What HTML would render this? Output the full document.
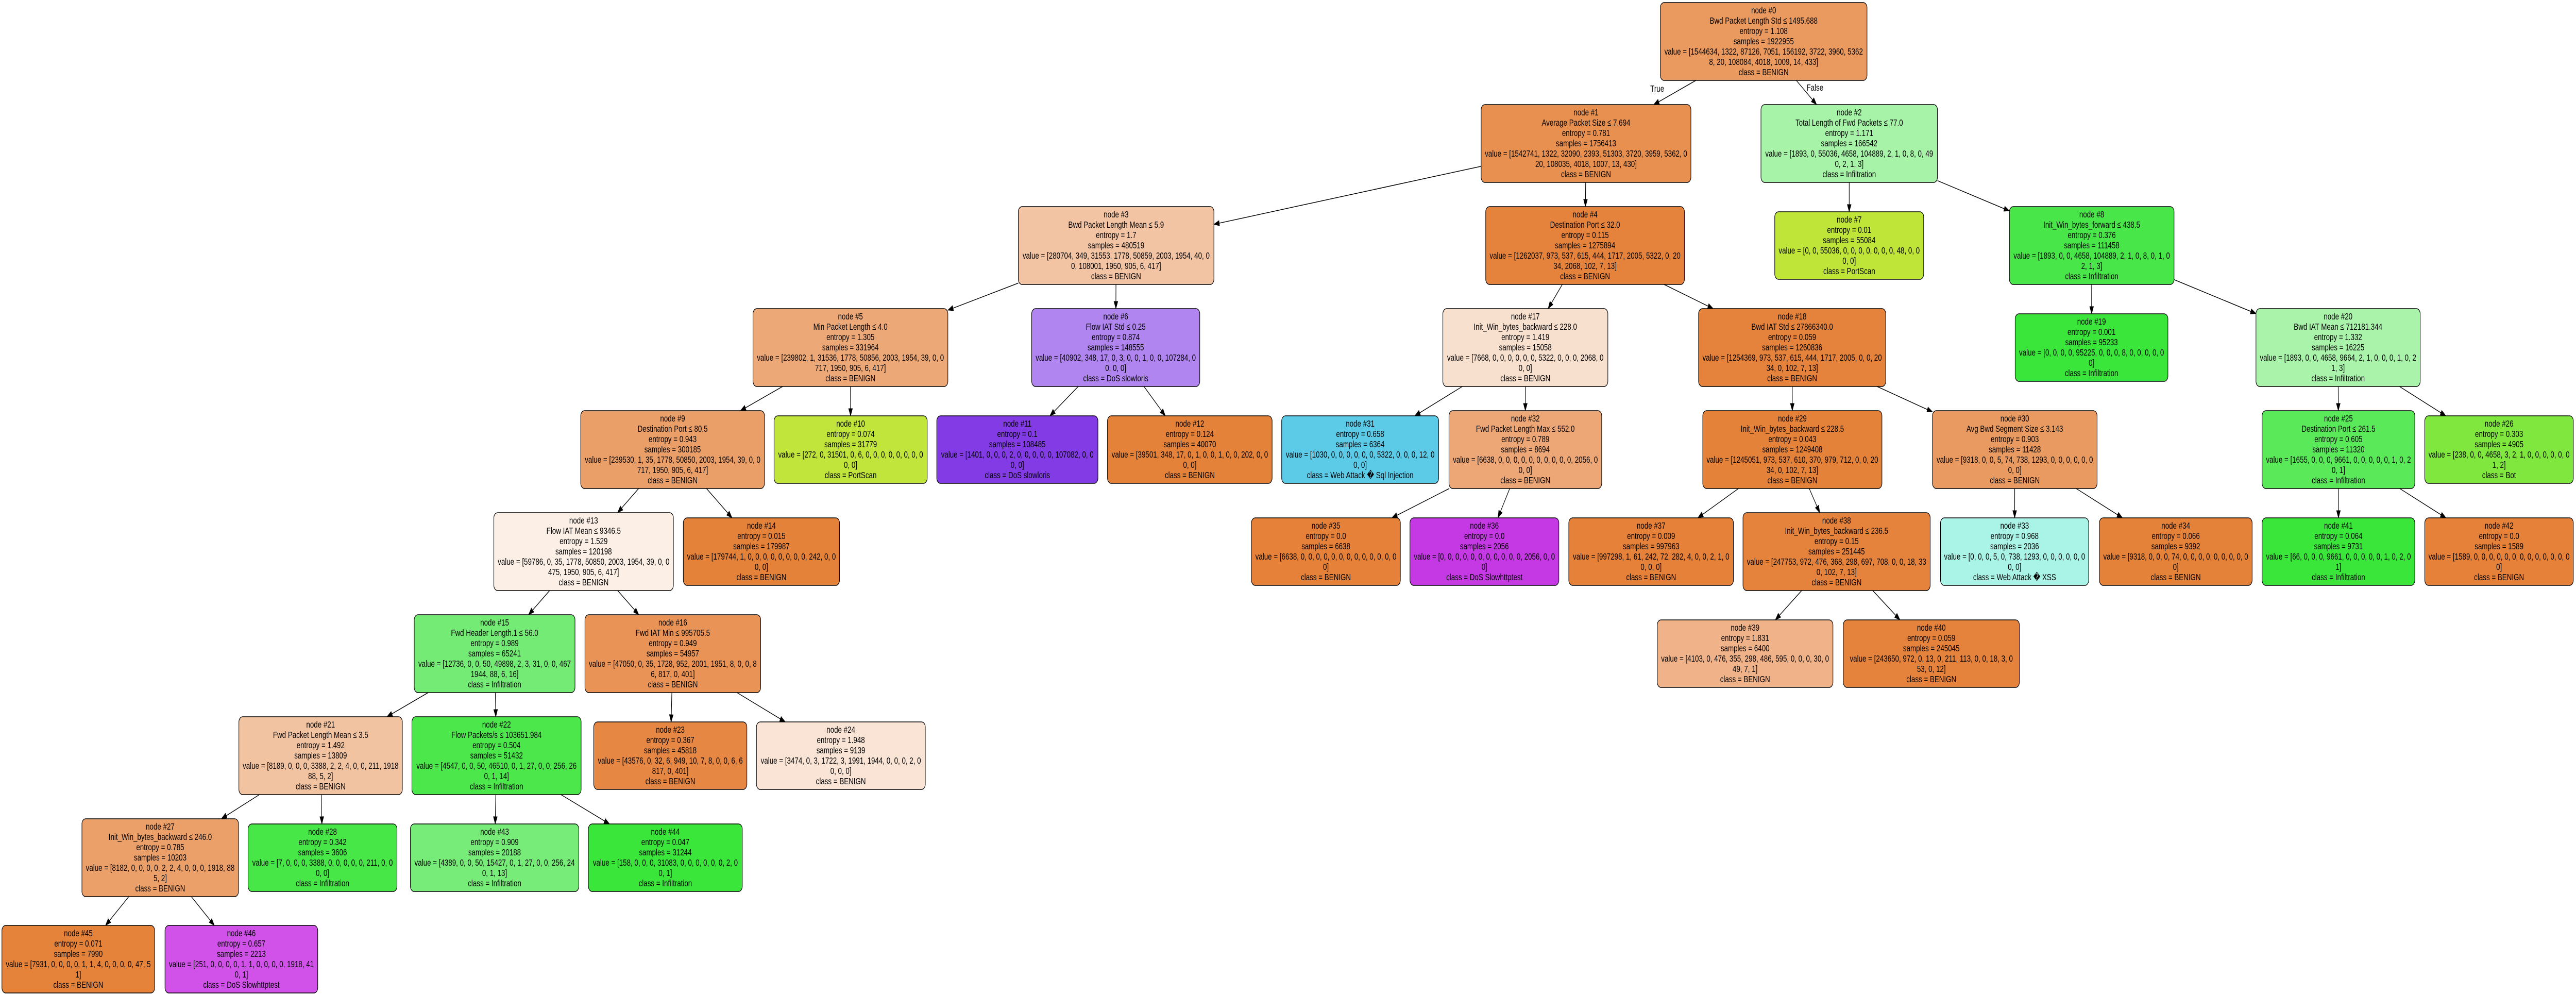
<!DOCTYPE html>
<html><head><meta charset="utf-8">
<style>
html,body{margin:0;padding:0;background:#fff;overflow:hidden;}
svg{display:block;position:fixed;left:0;top:0;width:100vw;height:100vh;}
rect{stroke:#000;stroke-width:1.4;}
text{font-family:"Liberation Sans","DejaVu Sans",sans-serif;font-size:18px;text-anchor:middle;fill:#000;}
</style></head>
<body>
<svg id="s" viewBox="0 0 6729 1929" preserveAspectRatio="none" xmlns="http://www.w3.org/2000/svg">
<g id="edges"></g>
<text x="4329" y="178">True</text>
<text x="4741" y="176">False</text>

<g class="n" id="n0" transform="translate(4337,5)"><rect width="540" height="151" rx="10" fill="#ea9a5f"/><g transform="translate(270,0)"><text y="21"><tspan x="0">node #0</tspan><tspan x="0" dy="20">Bwd Packet Length Std ≤ 1495.688</tspan><tspan x="0" dy="20">entropy = 1.108</tspan><tspan x="0" dy="20">samples = 1922955</tspan><tspan x="0" dy="20">value = [1544634, 1322, 87126, 7051, 156192, 3722, 3960, 5362</tspan><tspan x="0" dy="20">8, 20, 108084, 4018, 1009, 14, 433]</tspan><tspan x="0" dy="20">class = BENIGN</tspan></text></g></g>

<g class="n" id="n1" transform="translate(3869,203)"><rect width="548" height="151" rx="10" fill="#e89050"/><g transform="translate(274,0)"><text y="21"><tspan x="0">node #1</tspan><tspan x="0" dy="20">Average Packet Size ≤ 7.694</tspan><tspan x="0" dy="20">entropy = 0.781</tspan><tspan x="0" dy="20">samples = 1756413</tspan><tspan x="0" dy="20">value = [1542741, 1322, 32090, 2393, 51303, 3720, 3959, 5362, 0</tspan><tspan x="0" dy="20">20, 108035, 4018, 1007, 13, 430]</tspan><tspan x="0" dy="20">class = BENIGN</tspan></text></g></g>
<g class="n" id="n2" transform="translate(4600,203)"><rect width="461" height="151" rx="10" fill="#a7f3a7"/><g transform="translate(230.5,0)"><text y="21"><tspan x="0">node #2</tspan><tspan x="0" dy="20">Total Length of Fwd Packets ≤ 77.0</tspan><tspan x="0" dy="20">entropy = 1.171</tspan><tspan x="0" dy="20">samples = 166542</tspan><tspan x="0" dy="20">value = [1893, 0, 55036, 4658, 104889, 2, 1, 0, 8, 0, 49</tspan><tspan x="0" dy="20">0, 2, 1, 3]</tspan><tspan x="0" dy="20">class = Infiltration</tspan></text></g></g>

<g class="n" id="n3" transform="translate(2660,401)"><rect width="511" height="151" rx="10" fill="#f2c4a3"/><g transform="translate(255.5,0)"><text y="21"><tspan x="0">node #3</tspan><tspan x="0" dy="20">Bwd Packet Length Mean ≤ 5.9</tspan><tspan x="0" dy="20">entropy = 1.7</tspan><tspan x="0" dy="20">samples = 480519</tspan><tspan x="0" dy="20">value = [280704, 349, 31553, 1778, 50859, 2003, 1954, 40, 0</tspan><tspan x="0" dy="20">0, 108001, 1950, 905, 6, 417]</tspan><tspan x="0" dy="20">class = BENIGN</tspan></text></g></g>
<g class="n" id="n4" transform="translate(3881,401)"><rect width="519" height="151" rx="10" fill="#e5833c"/><g transform="translate(259.5,0)"><text y="21"><tspan x="0">node #4</tspan><tspan x="0" dy="20">Destination Port ≤ 32.0</tspan><tspan x="0" dy="20">entropy = 0.115</tspan><tspan x="0" dy="20">samples = 1275894</tspan><tspan x="0" dy="20">value = [1262037, 973, 537, 615, 444, 1717, 2005, 5322, 0, 20</tspan><tspan x="0" dy="20">34, 2068, 102, 7, 13]</tspan><tspan x="0" dy="20">class = BENIGN</tspan></text></g></g>
<g class="n" id="n7" transform="translate(4636,411)"><rect width="389" height="131" rx="10" fill="#c0e539"/><g transform="translate(194.5,0)"><text y="21"><tspan x="0">node #7</tspan><tspan x="0" dy="20">entropy = 0.01</tspan><tspan x="0" dy="20">samples = 55084</tspan><tspan x="0" dy="20">value = [0, 0, 55036, 0, 0, 0, 0, 0, 0, 0, 48, 0, 0</tspan><tspan x="0" dy="20">0, 0]</tspan><tspan x="0" dy="20">class = PortScan</tspan></text></g></g>
<g class="n" id="n8" transform="translate(5249,401)"><rect width="430" height="151" rx="10" fill="#48e648"/><g transform="translate(215,0)"><text y="21"><tspan x="0">node #8</tspan><tspan x="0" dy="20">Init_Win_bytes_forward ≤ 438.5</tspan><tspan x="0" dy="20">entropy = 0.376</tspan><tspan x="0" dy="20">samples = 111458</tspan><tspan x="0" dy="20">value = [1893, 0, 0, 4658, 104889, 2, 1, 0, 8, 0, 1, 0</tspan><tspan x="0" dy="20">2, 1, 3]</tspan><tspan x="0" dy="20">class = Infiltration</tspan></text></g></g>

<g class="n" id="n5" transform="translate(1967,599)"><rect width="509" height="151" rx="10" fill="#eda877"/><g transform="translate(254.5,0)"><text y="21"><tspan x="0">node #5</tspan><tspan x="0" dy="20">Min Packet Length ≤ 4.0</tspan><tspan x="0" dy="20">entropy = 1.305</tspan><tspan x="0" dy="20">samples = 331964</tspan><tspan x="0" dy="20">value = [239802, 1, 31536, 1778, 50856, 2003, 1954, 39, 0, 0</tspan><tspan x="0" dy="20">717, 1950, 905, 6, 417]</tspan><tspan x="0" dy="20">class = BENIGN</tspan></text></g></g>
<g class="n" id="n6" transform="translate(2695,599)"><rect width="439" height="151" rx="10" fill="#b185ef"/><g transform="translate(219.5,0)"><text y="21"><tspan x="0">node #6</tspan><tspan x="0" dy="20">Flow IAT Std ≤ 0.25</tspan><tspan x="0" dy="20">entropy = 0.874</tspan><tspan x="0" dy="20">samples = 148555</tspan><tspan x="0" dy="20">value = [40902, 348, 17, 0, 3, 0, 0, 1, 0, 0, 107284, 0</tspan><tspan x="0" dy="20">0, 0, 0]</tspan><tspan x="0" dy="20">class = DoS slowloris</tspan></text></g></g>
<g class="n" id="n17" transform="translate(3769,599)"><rect width="431" height="151" rx="10" fill="#f8e0ce"/><g transform="translate(215.5,0)"><text y="21"><tspan x="0">node #17</tspan><tspan x="0" dy="20">Init_Win_bytes_backward ≤ 228.0</tspan><tspan x="0" dy="20">entropy = 1.419</tspan><tspan x="0" dy="20">samples = 15058</tspan><tspan x="0" dy="20">value = [7668, 0, 0, 0, 0, 0, 0, 5322, 0, 0, 0, 2068, 0</tspan><tspan x="0" dy="20">0, 0]</tspan><tspan x="0" dy="20">class = BENIGN</tspan></text></g></g>
<g class="n" id="n18" transform="translate(4437,599)"><rect width="489" height="151" rx="10" fill="#e5823b"/><g transform="translate(244.5,0)"><text y="21"><tspan x="0">node #18</tspan><tspan x="0" dy="20">Bwd IAT Std ≤ 27866340.0</tspan><tspan x="0" dy="20">entropy = 0.059</tspan><tspan x="0" dy="20">samples = 1260836</tspan><tspan x="0" dy="20">value = [1254369, 973, 537, 615, 444, 1717, 2005, 0, 0, 20</tspan><tspan x="0" dy="20">34, 0, 102, 7, 13]</tspan><tspan x="0" dy="20">class = BENIGN</tspan></text></g></g>
<g class="n" id="n19" transform="translate(5264,609)"><rect width="399" height="131" rx="10" fill="#3ae63a"/><g transform="translate(199.5,0)"><text y="21"><tspan x="0">node #19</tspan><tspan x="0" dy="20">entropy = 0.001</tspan><tspan x="0" dy="20">samples = 95233</tspan><tspan x="0" dy="20">value = [0, 0, 0, 0, 95225, 0, 0, 0, 8, 0, 0, 0, 0, 0</tspan><tspan x="0" dy="20">0]</tspan><tspan x="0" dy="20">class = Infiltration</tspan></text></g></g>
<g class="n" id="n20" transform="translate(5893,599)"><rect width="429" height="151" rx="10" fill="#aaf3aa"/><g transform="translate(214.5,0)"><text y="21"><tspan x="0">node #20</tspan><tspan x="0" dy="20">Bwd IAT Mean ≤ 712181.344</tspan><tspan x="0" dy="20">entropy = 1.332</tspan><tspan x="0" dy="20">samples = 16225</tspan><tspan x="0" dy="20">value = [1893, 0, 0, 4658, 9664, 2, 1, 0, 0, 0, 1, 0, 2</tspan><tspan x="0" dy="20">1, 3]</tspan><tspan x="0" dy="20">class = Infiltration</tspan></text></g></g>

<g class="n" id="n9" transform="translate(1517,797)"><rect width="480" height="151" rx="10" fill="#ea9f68"/><g transform="translate(240,0)"><text y="21"><tspan x="0">node #9</tspan><tspan x="0" dy="20">Destination Port ≤ 80.5</tspan><tspan x="0" dy="20">entropy = 0.943</tspan><tspan x="0" dy="20">samples = 300185</tspan><tspan x="0" dy="20">value = [239530, 1, 35, 1778, 50850, 2003, 1954, 39, 0, 0</tspan><tspan x="0" dy="20">717, 1950, 905, 6, 417]</tspan><tspan x="0" dy="20">class = BENIGN</tspan></text></g></g>
<g class="n" id="n10" transform="translate(2022,807)"><rect width="400" height="131" rx="10" fill="#c1e53b"/><g transform="translate(200,0)"><text y="21"><tspan x="0">node #10</tspan><tspan x="0" dy="20">entropy = 0.074</tspan><tspan x="0" dy="20">samples = 31779</tspan><tspan x="0" dy="20">value = [272, 0, 31501, 0, 6, 0, 0, 0, 0, 0, 0, 0, 0</tspan><tspan x="0" dy="20">0, 0]</tspan><tspan x="0" dy="20">class = PortScan</tspan></text></g></g>
<g class="n" id="n11" transform="translate(2447,807)"><rect width="421" height="131" rx="10" fill="#833be5"/><g transform="translate(210.5,0)"><text y="21"><tspan x="0">node #11</tspan><tspan x="0" dy="20">entropy = 0.1</tspan><tspan x="0" dy="20">samples = 108485</tspan><tspan x="0" dy="20">value = [1401, 0, 0, 0, 2, 0, 0, 0, 0, 0, 107082, 0, 0</tspan><tspan x="0" dy="20">0, 0]</tspan><tspan x="0" dy="20">class = DoS slowloris</tspan></text></g></g>
<g class="n" id="n12" transform="translate(2893,807)"><rect width="430" height="131" rx="10" fill="#e5823a"/><g transform="translate(215,0)"><text y="21"><tspan x="0">node #12</tspan><tspan x="0" dy="20">entropy = 0.124</tspan><tspan x="0" dy="20">samples = 40070</tspan><tspan x="0" dy="20">value = [39501, 348, 17, 0, 1, 0, 0, 1, 0, 0, 202, 0, 0</tspan><tspan x="0" dy="20">0, 0]</tspan><tspan x="0" dy="20">class = BENIGN</tspan></text></g></g>
<g class="n" id="n31" transform="translate(3348,807)"><rect width="410" height="131" rx="10" fill="#5ccbe8"/><g transform="translate(205,0)"><text y="21"><tspan x="0">node #31</tspan><tspan x="0" dy="20">entropy = 0.658</tspan><tspan x="0" dy="20">samples = 6364</tspan><tspan x="0" dy="20">value = [1030, 0, 0, 0, 0, 0, 0, 5322, 0, 0, 0, 12, 0</tspan><tspan x="0" dy="20">0, 0]</tspan><tspan x="0" dy="20">class = Web Attack &#xFFFD; Sql Injection</tspan></text></g></g>
<g class="n" id="n32" transform="translate(3785,797)"><rect width="399" height="151" rx="10" fill="#eda675"/><g transform="translate(199.5,0)"><text y="21"><tspan x="0">node #32</tspan><tspan x="0" dy="20">Fwd Packet Length Max ≤ 552.0</tspan><tspan x="0" dy="20">entropy = 0.789</tspan><tspan x="0" dy="20">samples = 8694</tspan><tspan x="0" dy="20">value = [6638, 0, 0, 0, 0, 0, 0, 0, 0, 0, 0, 2056, 0</tspan><tspan x="0" dy="20">0, 0]</tspan><tspan x="0" dy="20">class = BENIGN</tspan></text></g></g>
<g class="n" id="n29" transform="translate(4448,797)"><rect width="468" height="151" rx="10" fill="#e5823a"/><g transform="translate(234,0)"><text y="21"><tspan x="0">node #29</tspan><tspan x="0" dy="20">Init_Win_bytes_backward ≤ 228.5</tspan><tspan x="0" dy="20">entropy = 0.043</tspan><tspan x="0" dy="20">samples = 1249408</tspan><tspan x="0" dy="20">value = [1245051, 973, 537, 610, 370, 979, 712, 0, 0, 20</tspan><tspan x="0" dy="20">34, 0, 102, 7, 13]</tspan><tspan x="0" dy="20">class = BENIGN</tspan></text></g></g>
<g class="n" id="n30" transform="translate(5048,797)"><rect width="430" height="151" rx="10" fill="#e99a60"/><g transform="translate(215,0)"><text y="21"><tspan x="0">node #30</tspan><tspan x="0" dy="20">Avg Bwd Segment Size ≤ 3.143</tspan><tspan x="0" dy="20">entropy = 0.903</tspan><tspan x="0" dy="20">samples = 11428</tspan><tspan x="0" dy="20">value = [9318, 0, 0, 5, 74, 738, 1293, 0, 0, 0, 0, 0, 0</tspan><tspan x="0" dy="20">0, 0]</tspan><tspan x="0" dy="20">class = BENIGN</tspan></text></g></g>
<g class="n" id="n25" transform="translate(5909,797)"><rect width="399" height="151" rx="10" fill="#59e959"/><g transform="translate(199.5,0)"><text y="21"><tspan x="0">node #25</tspan><tspan x="0" dy="20">Destination Port ≤ 261.5</tspan><tspan x="0" dy="20">entropy = 0.605</tspan><tspan x="0" dy="20">samples = 11320</tspan><tspan x="0" dy="20">value = [1655, 0, 0, 0, 9661, 0, 0, 0, 0, 0, 1, 0, 2</tspan><tspan x="0" dy="20">0, 1]</tspan><tspan x="0" dy="20">class = Infiltration</tspan></text></g></g>
<g class="n" id="n26" transform="translate(6334,807)"><rect width="388" height="131" rx="10" fill="#80e73f"/><g transform="translate(194,0)"><text y="21"><tspan x="0">node #26</tspan><tspan x="0" dy="20">entropy = 0.303</tspan><tspan x="0" dy="20">samples = 4905</tspan><tspan x="0" dy="20">value = [238, 0, 0, 4658, 3, 2, 1, 0, 0, 0, 0, 0, 0</tspan><tspan x="0" dy="20">1, 2]</tspan><tspan x="0" dy="20">class = Bot</tspan></text></g></g>

<g class="n" id="n13" transform="translate(1290,995)"><rect width="469" height="151" rx="10" fill="#fcefe6"/><g transform="translate(234.5,0)"><text y="21"><tspan x="0">node #13</tspan><tspan x="0" dy="20">Flow IAT Mean ≤ 9346.5</tspan><tspan x="0" dy="20">entropy = 1.529</tspan><tspan x="0" dy="20">samples = 120198</tspan><tspan x="0" dy="20">value = [59786, 0, 35, 1778, 50850, 2003, 1954, 39, 0, 0</tspan><tspan x="0" dy="20">475, 1950, 905, 6, 417]</tspan><tspan x="0" dy="20">class = BENIGN</tspan></text></g></g>
<g class="n" id="n14" transform="translate(1785,1005)"><rect width="408" height="131" rx="10" fill="#e5823a"/><g transform="translate(204,0)"><text y="21"><tspan x="0">node #14</tspan><tspan x="0" dy="20">entropy = 0.015</tspan><tspan x="0" dy="20">samples = 179987</tspan><tspan x="0" dy="20">value = [179744, 1, 0, 0, 0, 0, 0, 0, 0, 0, 242, 0, 0</tspan><tspan x="0" dy="20">0, 0]</tspan><tspan x="0" dy="20">class = BENIGN</tspan></text></g></g>
<g class="n" id="n35" transform="translate(3269,1005)"><rect width="389" height="131" rx="10" fill="#e58139"/><g transform="translate(194.5,0)"><text y="21"><tspan x="0">node #35</tspan><tspan x="0" dy="20">entropy = 0.0</tspan><tspan x="0" dy="20">samples = 6638</tspan><tspan x="0" dy="20">value = [6638, 0, 0, 0, 0, 0, 0, 0, 0, 0, 0, 0, 0, 0</tspan><tspan x="0" dy="20">0]</tspan><tspan x="0" dy="20">class = BENIGN</tspan></text></g></g>
<g class="n" id="n36" transform="translate(3683,1005)"><rect width="389" height="131" rx="10" fill="#c539e5"/><g transform="translate(194.5,0)"><text y="21"><tspan x="0">node #36</tspan><tspan x="0" dy="20">entropy = 0.0</tspan><tspan x="0" dy="20">samples = 2056</tspan><tspan x="0" dy="20">value = [0, 0, 0, 0, 0, 0, 0, 0, 0, 0, 0, 2056, 0, 0</tspan><tspan x="0" dy="20">0]</tspan><tspan x="0" dy="20">class = DoS Slowhttptest</tspan></text></g></g>
<g class="n" id="n37" transform="translate(4098,1005)"><rect width="430" height="131" rx="10" fill="#e58139"/><g transform="translate(215,0)"><text y="21"><tspan x="0">node #37</tspan><tspan x="0" dy="20">entropy = 0.009</tspan><tspan x="0" dy="20">samples = 997963</tspan><tspan x="0" dy="20">value = [997298, 1, 61, 242, 72, 282, 4, 0, 0, 2, 1, 0</tspan><tspan x="0" dy="20">0, 0, 0]</tspan><tspan x="0" dy="20">class = BENIGN</tspan></text></g></g>
<g class="n" id="n38" transform="translate(4553,995)"><rect width="489" height="151" rx="10" fill="#e5833c"/><g transform="translate(244.5,0)"><text y="21"><tspan x="0">node #38</tspan><tspan x="0" dy="20">Init_Win_bytes_backward ≤ 236.5</tspan><tspan x="0" dy="20">entropy = 0.15</tspan><tspan x="0" dy="20">samples = 251445</tspan><tspan x="0" dy="20">value = [247753, 972, 476, 368, 298, 697, 708, 0, 0, 18, 33</tspan><tspan x="0" dy="20">0, 102, 7, 13]</tspan><tspan x="0" dy="20">class = BENIGN</tspan></text></g></g>
<g class="n" id="n33" transform="translate(5069,1005)"><rect width="387" height="131" rx="10" fill="#aaf4e7"/><g transform="translate(193.5,0)"><text y="21"><tspan x="0">node #33</tspan><tspan x="0" dy="20">entropy = 0.968</tspan><tspan x="0" dy="20">samples = 2036</tspan><tspan x="0" dy="20">value = [0, 0, 0, 5, 0, 738, 1293, 0, 0, 0, 0, 0, 0</tspan><tspan x="0" dy="20">0, 0]</tspan><tspan x="0" dy="20">class = Web Attack &#xFFFD; XSS</tspan></text></g></g>
<g class="n" id="n34" transform="translate(5484,1005)"><rect width="399" height="131" rx="10" fill="#e5823a"/><g transform="translate(199.5,0)"><text y="21"><tspan x="0">node #34</tspan><tspan x="0" dy="20">entropy = 0.066</tspan><tspan x="0" dy="20">samples = 9392</tspan><tspan x="0" dy="20">value = [9318, 0, 0, 0, 74, 0, 0, 0, 0, 0, 0, 0, 0, 0</tspan><tspan x="0" dy="20">0]</tspan><tspan x="0" dy="20">class = BENIGN</tspan></text></g></g>
<g class="n" id="n41" transform="translate(5909,1005)"><rect width="399" height="131" rx="10" fill="#3be63b"/><g transform="translate(199.5,0)"><text y="21"><tspan x="0">node #41</tspan><tspan x="0" dy="20">entropy = 0.064</tspan><tspan x="0" dy="20">samples = 9731</tspan><tspan x="0" dy="20">value = [66, 0, 0, 0, 9661, 0, 0, 0, 0, 0, 1, 0, 2, 0</tspan><tspan x="0" dy="20">1]</tspan><tspan x="0" dy="20">class = Infiltration</tspan></text></g></g>
<g class="n" id="n42" transform="translate(6334,1005)"><rect width="388" height="131" rx="10" fill="#e58139"/><g transform="translate(194,0)"><text y="21"><tspan x="0">node #42</tspan><tspan x="0" dy="20">entropy = 0.0</tspan><tspan x="0" dy="20">samples = 1589</tspan><tspan x="0" dy="20">value = [1589, 0, 0, 0, 0, 0, 0, 0, 0, 0, 0, 0, 0, 0</tspan><tspan x="0" dy="20">0]</tspan><tspan x="0" dy="20">class = BENIGN</tspan></text></g></g>

<g class="n" id="n15" transform="translate(1082,1193)"><rect width="420" height="151" rx="10" fill="#74eb74"/><g transform="translate(210,0)"><text y="21"><tspan x="0">node #15</tspan><tspan x="0" dy="20">Fwd Header Length.1 ≤ 56.0</tspan><tspan x="0" dy="20">entropy = 0.989</tspan><tspan x="0" dy="20">samples = 65241</tspan><tspan x="0" dy="20">value = [12736, 0, 0, 50, 49898, 2, 3, 31, 0, 0, 467</tspan><tspan x="0" dy="20">1944, 88, 6, 16]</tspan><tspan x="0" dy="20">class = Infiltration</tspan></text></g></g>
<g class="n" id="n16" transform="translate(1528,1193)"><rect width="459" height="151" rx="10" fill="#e99456"/><g transform="translate(229.5,0)"><text y="21"><tspan x="0">node #16</tspan><tspan x="0" dy="20">Fwd IAT Min ≤ 995705.5</tspan><tspan x="0" dy="20">entropy = 0.949</tspan><tspan x="0" dy="20">samples = 54957</tspan><tspan x="0" dy="20">value = [47050, 0, 35, 1728, 952, 2001, 1951, 8, 0, 0, 8</tspan><tspan x="0" dy="20">6, 817, 0, 401]</tspan><tspan x="0" dy="20">class = BENIGN</tspan></text></g></g>
<g class="n" id="n39" transform="translate(4329,1203)"><rect width="459" height="131" rx="10" fill="#f0b289"/><g transform="translate(229.5,0)"><text y="21"><tspan x="0">node #39</tspan><tspan x="0" dy="20">entropy = 1.831</tspan><tspan x="0" dy="20">samples = 6400</tspan><tspan x="0" dy="20">value = [4103, 0, 476, 355, 298, 486, 595, 0, 0, 0, 30, 0</tspan><tspan x="0" dy="20">49, 7, 1]</tspan><tspan x="0" dy="20">class = BENIGN</tspan></text></g></g>
<g class="n" id="n40" transform="translate(4815,1203)"><rect width="460" height="131" rx="10" fill="#e5823b"/><g transform="translate(230,0)"><text y="21"><tspan x="0">node #40</tspan><tspan x="0" dy="20">entropy = 0.059</tspan><tspan x="0" dy="20">samples = 245045</tspan><tspan x="0" dy="20">value = [243650, 972, 0, 13, 0, 211, 113, 0, 0, 18, 3, 0</tspan><tspan x="0" dy="20">53, 0, 12]</tspan><tspan x="0" dy="20">class = BENIGN</tspan></text></g></g>

<g class="n" id="n21" transform="translate(624,1391)"><rect width="427" height="151" rx="10" fill="#f2c3a1"/><g transform="translate(213.5,0)"><text y="21"><tspan x="0">node #21</tspan><tspan x="0" dy="20">Fwd Packet Length Mean ≤ 3.5</tspan><tspan x="0" dy="20">entropy = 1.492</tspan><tspan x="0" dy="20">samples = 13809</tspan><tspan x="0" dy="20">value = [8189, 0, 0, 0, 3388, 2, 2, 4, 0, 0, 211, 1918</tspan><tspan x="0" dy="20">88, 5, 2]</tspan><tspan x="0" dy="20">class = BENIGN</tspan></text></g></g>
<g class="n" id="n22" transform="translate(1076,1391)"><rect width="442" height="151" rx="10" fill="#4be74b"/><g transform="translate(221,0)"><text y="21"><tspan x="0">node #22</tspan><tspan x="0" dy="20">Flow Packets/s ≤ 103651.984</tspan><tspan x="0" dy="20">entropy = 0.504</tspan><tspan x="0" dy="20">samples = 51432</tspan><tspan x="0" dy="20">value = [4547, 0, 0, 50, 46510, 0, 1, 27, 0, 0, 256, 26</tspan><tspan x="0" dy="20">0, 1, 14]</tspan><tspan x="0" dy="20">class = Infiltration</tspan></text></g></g>
<g class="n" id="n23" transform="translate(1551,1401)"><rect width="400" height="131" rx="10" fill="#e68743"/><g transform="translate(200,0)"><text y="21"><tspan x="0">node #23</tspan><tspan x="0" dy="20">entropy = 0.367</tspan><tspan x="0" dy="20">samples = 45818</tspan><tspan x="0" dy="20">value = [43576, 0, 32, 6, 949, 10, 7, 8, 0, 0, 6, 6</tspan><tspan x="0" dy="20">817, 0, 401]</tspan><tspan x="0" dy="20">class = BENIGN</tspan></text></g></g>
<g class="n" id="n24" transform="translate(1976,1401)"><rect width="441" height="131" rx="10" fill="#f9e4d6"/><g transform="translate(220.5,0)"><text y="21"><tspan x="0">node #24</tspan><tspan x="0" dy="20">entropy = 1.948</tspan><tspan x="0" dy="20">samples = 9139</tspan><tspan x="0" dy="20">value = [3474, 0, 3, 1722, 3, 1991, 1944, 0, 0, 0, 2, 0</tspan><tspan x="0" dy="20">0, 0, 0]</tspan><tspan x="0" dy="20">class = BENIGN</tspan></text></g></g>

<g class="n" id="n27" transform="translate(214,1589)"><rect width="409" height="151" rx="10" fill="#eba06a"/><g transform="translate(204.5,0)"><text y="21"><tspan x="0">node #27</tspan><tspan x="0" dy="20">Init_Win_bytes_backward ≤ 246.0</tspan><tspan x="0" dy="20">entropy = 0.785</tspan><tspan x="0" dy="20">samples = 10203</tspan><tspan x="0" dy="20">value = [8182, 0, 0, 0, 0, 2, 2, 4, 0, 0, 0, 1918, 88</tspan><tspan x="0" dy="20">5, 2]</tspan><tspan x="0" dy="20">class = BENIGN</tspan></text></g></g>
<g class="n" id="n28" transform="translate(648,1599)"><rect width="389" height="131" rx="10" fill="#47e747"/><g transform="translate(194.5,0)"><text y="21"><tspan x="0">node #28</tspan><tspan x="0" dy="20">entropy = 0.342</tspan><tspan x="0" dy="20">samples = 3606</tspan><tspan x="0" dy="20">value = [7, 0, 0, 0, 3388, 0, 0, 0, 0, 0, 211, 0, 0</tspan><tspan x="0" dy="20">0, 0]</tspan><tspan x="0" dy="20">class = Infiltration</tspan></text></g></g>
<g class="n" id="n43" transform="translate(1072,1599)"><rect width="440" height="131" rx="10" fill="#78ec78"/><g transform="translate(220,0)"><text y="21"><tspan x="0">node #43</tspan><tspan x="0" dy="20">entropy = 0.909</tspan><tspan x="0" dy="20">samples = 20188</tspan><tspan x="0" dy="20">value = [4389, 0, 0, 50, 15427, 0, 1, 27, 0, 0, 256, 24</tspan><tspan x="0" dy="20">0, 1, 13]</tspan><tspan x="0" dy="20">class = Infiltration</tspan></text></g></g>
<g class="n" id="n44" transform="translate(1537,1599)"><rect width="402" height="131" rx="10" fill="#3be63b"/><g transform="translate(201,0)"><text y="21"><tspan x="0">node #44</tspan><tspan x="0" dy="20">entropy = 0.047</tspan><tspan x="0" dy="20">samples = 31244</tspan><tspan x="0" dy="20">value = [158, 0, 0, 0, 31083, 0, 0, 0, 0, 0, 0, 2, 0</tspan><tspan x="0" dy="20">0, 1]</tspan><tspan x="0" dy="20">class = Infiltration</tspan></text></g></g>

<g class="n" id="n45" transform="translate(5,1796)"><rect width="399" height="131" rx="10" fill="#e5833b"/><g transform="translate(199.5,0)"><text y="21"><tspan x="0">node #45</tspan><tspan x="0" dy="20">entropy = 0.071</tspan><tspan x="0" dy="20">samples = 7990</tspan><tspan x="0" dy="20">value = [7931, 0, 0, 0, 0, 1, 1, 4, 0, 0, 0, 0, 47, 5</tspan><tspan x="0" dy="20">1]</tspan><tspan x="0" dy="20">class = BENIGN</tspan></text></g></g>
<g class="n" id="n46" transform="translate(431,1796)"><rect width="399" height="131" rx="10" fill="#d052e8"/><g transform="translate(199.5,0)"><text y="21"><tspan x="0">node #46</tspan><tspan x="0" dy="20">entropy = 0.657</tspan><tspan x="0" dy="20">samples = 2213</tspan><tspan x="0" dy="20">value = [251, 0, 0, 0, 0, 1, 1, 0, 0, 0, 0, 1918, 41</tspan><tspan x="0" dy="20">0, 1]</tspan><tspan x="0" dy="20">class = DoS Slowhttptest</tspan></text></g></g>
</svg>
<script>
(function(){
var N={};
var gs=document.querySelectorAll('g.n');
for(var i=0;i<gs.length;i++){var g=gs[i];var m=g.getAttribute('transform').match(/translate\(([\d.]+),([\d.]+)\)/);var r=g.querySelector('rect');
N[g.id.slice(1)]={x:+m[1],y:+m[2],w:+r.getAttribute('width'),h:+r.getAttribute('height')};}
var E=[[0,1],[0,2],[1,3],[1,4],[2,7],[2,8],[3,5],[3,6],[4,17],[4,18],[8,19],[8,20],[5,9],[5,10],[6,11],[6,12],[17,31],[17,32],[18,29],[18,30],[20,25],[20,26],[9,13],[9,14],[32,35],[32,36],[29,37],[29,38],[30,33],[30,34],[25,41],[25,42],[13,15],[13,16],[38,39],[38,40],[15,21],[15,22],[16,23],[16,24],[21,27],[21,28],[22,43],[22,44],[27,45],[27,46]];
var ns='http://www.w3.org/2000/svg',eg=document.getElementById('edges');
E.forEach(function(e){var p=N[e[0]],c=N[e[1]];
var px=p.x+p.w/2,py=p.y+p.h/2,cx=c.x+c.w/2,cy=c.y+c.h/2,dx=cx-px,dy=cy-py;
function tc(w,h){var a=Math.abs(dx)>0?(w/2)/Math.abs(dx):1e9,b=Math.abs(dy)>0?(h/2)/Math.abs(dy):1e9;return Math.min(a,b);}
var t1=tc(p.w,p.h),t2=1-tc(c.w,c.h);
var sx=px+dx*t1,sy=py+dy*t1,ex=px+dx*t2,ey=py+dy*t2;
var L=Math.sqrt(dx*dx+dy*dy),ux=dx/L,uy=dy/L,al=14,aw=5;
var bx=ex-ux*al,by=ey-uy*al;
var ln=document.createElementNS(ns,'line');ln.setAttribute('x1',sx);ln.setAttribute('y1',sy);ln.setAttribute('x2',bx);ln.setAttribute('y2',by);ln.setAttribute('stroke','#000');ln.setAttribute('stroke-width','1.5');eg.appendChild(ln);
var pg=document.createElementNS(ns,'polygon');pg.setAttribute('points',ex+','+ey+' '+(bx-uy*aw)+','+(by+ux*aw)+' '+(bx+uy*aw)+','+(by-ux*aw));pg.setAttribute('fill','#000');pg.setAttribute('stroke','#000');eg.appendChild(pg);
});
})();
</script>
</body></html>
